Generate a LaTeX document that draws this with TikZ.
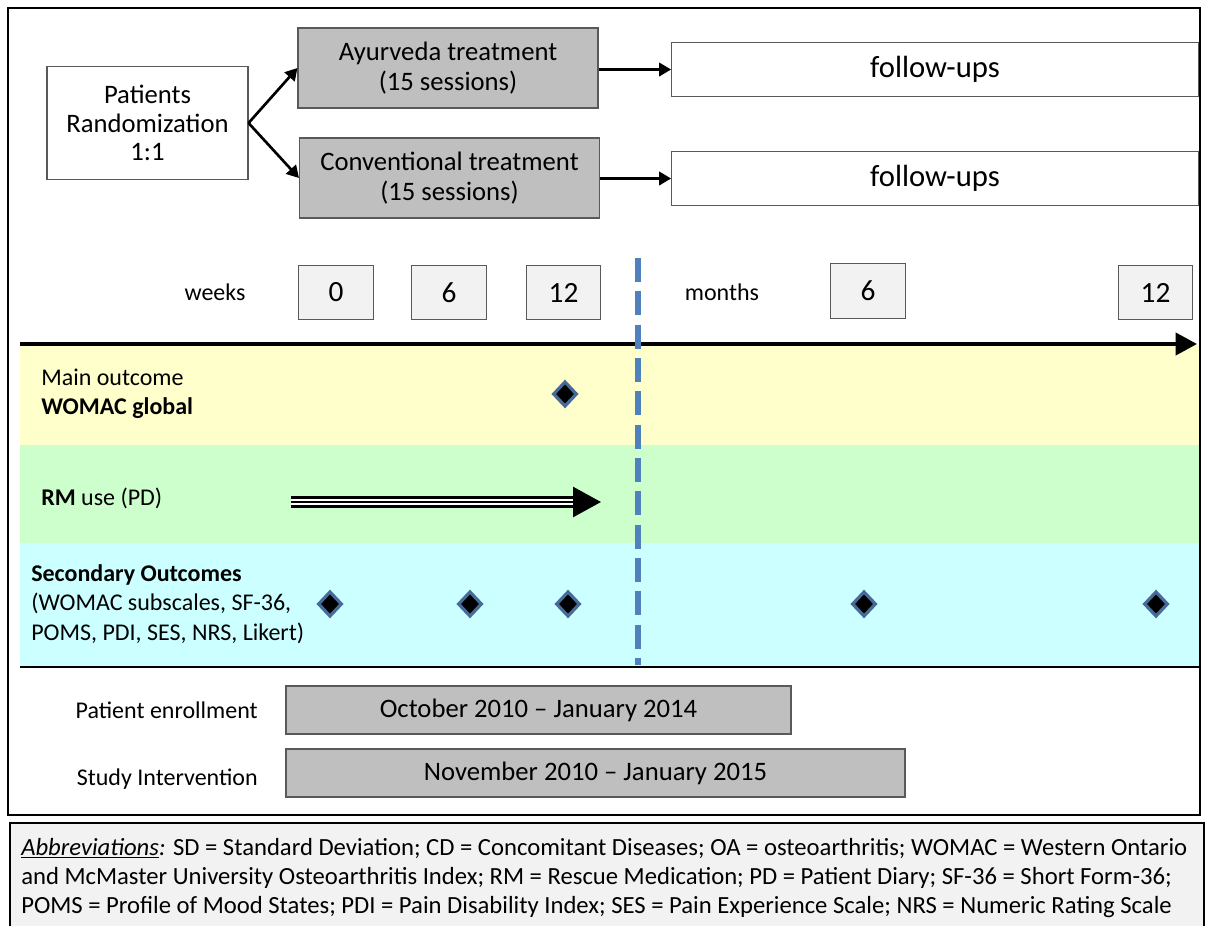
\documentclass[tikz,border=0pt]{standalone}
\usepackage{fontspec}
\setmainfont{Carlito}
\usepackage{tikz}
\usetikzlibrary{arrows.meta,shapes.geometric}
\definecolor{boxgray}{HTML}{BFBFBF}
\definecolor{tickgray}{HTML}{F2F2F2}
\definecolor{edgegray}{HTML}{595959}
\definecolor{bandyellow}{HTML}{FFFFCC}
\definecolor{bandgreen}{HTML}{CCFFCC}
\definecolor{bandcyan}{HTML}{CCFFFF}
\definecolor{sepblue}{HTML}{4F81BD}
\definecolor{visitblue}{HTML}{476A98}

\begin{document}
\begin{tikzpicture}[x=0.75pt, y=-0.75pt,
    every node/.style={inner sep=0pt, align=center},
    armbox/.style={draw=edgegray, fill=boxgray, line width=0.8pt,
      minimum width=225pt, minimum height=60pt, font=\fontsize{20}{23}\selectfont},
    fubox/.style={draw=edgegray, fill=white, line width=0.8pt,
      minimum width=395pt, minimum height=40pt, font=\fontsize{23}{26}\selectfont},
    tickbox/.style={draw=edgegray, fill=tickgray, line width=0.8pt,
      minimum width=56pt, minimum height=41pt, font=\fontsize{22}{24}\selectfont},
    datebox/.style={draw=edgegray, fill=boxgray, line width=0.8pt,
      minimum height=36pt, font=\fontsize{20}{23}\selectfont},
    lbl/.style={font=\fontsize{18}{22}\selectfont, align=left},
    visit/.style={diamond, draw=visitblue, fill=black, line width=2.4pt,
      minimum width=18pt, minimum height=19pt},
    link/.style={line width=2pt, -{Triangle[length=9pt,width=10pt]}}]
  \useasboundingbox (0,0) rectangle (1206,925);

  % outer frame and abbreviations panel
  \draw[line width=2pt] (8,8) rectangle (1200,815);
  \draw[line width=2pt, fill=tickgray] (10,823) rectangle (1204,940);

  % study arms
  \node[draw=edgegray, line width=0.8pt, minimum width=150.75pt, minimum height=84.75pt,
    font=\fontsize{20}{21.5}\selectfont] (rand) at (147.5,123) {Patients\\Randomization\\1:1};
  \node[armbox] (ayur) at (448,68) {Ayurveda treatment\\(15 sessions)};
  \node[armbox] (conv) at (449.5,178) {Conventional treatment\\(15 sessions)};
  \node[fubox] (fuA) at (935,69.5) {follow-ups};
  \node[fubox] (fuB) at (935,178.5) {follow-ups};
  \draw[link] (rand.east) -- (ayur.west);
  \draw[link] (rand.east) -- (conv.west);
  \draw[link] (ayur.east |- fuA.west) -- (fuA.west);
  \draw[link] (conv.east |- fuB.west) -- (fuB.west);

  % outcome bands
  \fill[bandyellow] (20,346) rectangle (1199,445);
  \fill[bandgreen] (20,445) rectangle (1199,543);
  \fill[bandcyan] (20,543) rectangle (1199,667);
  \coordinate (bandL) at (20,667);
  \coordinate (bandR) at (1199,667);
  \draw[line width=1.5pt] (bandL) -- (bandR);

  % time axis
  \node[lbl] (weeks) at (215,292) {weeks};
  \node[tickbox] (w0) at (336,292.5) {0};
  \node[tickbox] (w6) at (449,292.5) {6};
  \node[tickbox] (w12) at (563.5,292.5) {12};
  \node[lbl] (months) at (722,292) {months};
  \node[tickbox] (m6) at (868,291) {6};
  \node[tickbox] (m12) at (1155.5,292.5) {12};
  \coordinate (axisL) at (20,344);
  \coordinate (axisR) at (1197,344);
  \draw[line width=3pt, -{Triangle[length=16pt,width=16.5pt]}] (axisL) -- (axisR);

  % end of treatment
  \coordinate (sepT) at (638,258);
  \coordinate (sepB) at (638,665);
  \draw[sepblue, line width=5pt, dash pattern=on 18pt off 7pt] (sepT) -- (sepB);

  % main outcome
  \node[lbl, anchor=west] (mainlbl) at (41,394) {Main outcome\\\textbf{WOMAC global}};
  \node[visit] (mainv) at (565,394) {};

  % rescue medication
  \node[lbl, anchor=west] (rmlbl) at (41,498) {\textbf{RM} use (PD)};
  \coordinate (rmA) at (291,502);
  \coordinate (rmB) at (573,502);
  \coordinate (rmC) at (601,502);
  \draw[line width=9pt] (rmA) -- (rmB);
  \draw[white, line width=5pt] (rmA) -- (rmB);
  \draw[line width=2pt, -{Triangle[length=21pt,width=22.5pt]}] (rmA) -- (rmC);

  % secondary outcomes
  \node[lbl, anchor=west] (seclbl) at (31,604)
    {\textbf{Secondary Outcomes}\\(WOMAC subscales, SF-36,\\POMS, PDI, SES, NRS, Likert)};
  \foreach \x/\n in {330/a, 470/b, 568/c, 864/d, 1156/e}
    \node[visit] (sec\n) at (\x,604) {};

  % recruitment periods
  \node[lbl, anchor=east] (enrlbl) at (258,710) {Patient enrollment};
  \node[datebox, minimum width=378.75pt] (enr) at (538.5,710) {October 2010 -- January 2014};
  \node[lbl, anchor=east] (intlbl) at (258,779) {Study Intervention};
  \node[datebox, minimum width=464.25pt] (int) at (595.5,773) {November 2010 -- January 2015};

  % abbreviations
  \begin{scope}[every node/.style={anchor=west, inner sep=0pt, font=\fontsize{18.5}{21}\selectfont}]
    \node (abA) at (21,848) {\underline{\textit{Abbreviations}}\textit{:} SD = Standard Deviation; CD = Concomitant Diseases; OA = osteoarthritis; WOMAC = Western Ontario};
    \node (abB) at (21,878) {and McMaster University Osteoarthritis Index; RM = Rescue Medication; PD = Patient Diary; SF-36 = Short Form-36;};
    \node (abC) at (21,907) {POMS = Profile of Mood States; PDI = Pain Disability Index; SES = Pain Experience Scale; NRS = Numeric Rating Scale};
  \end{scope}
\end{tikzpicture}
\end{document}
